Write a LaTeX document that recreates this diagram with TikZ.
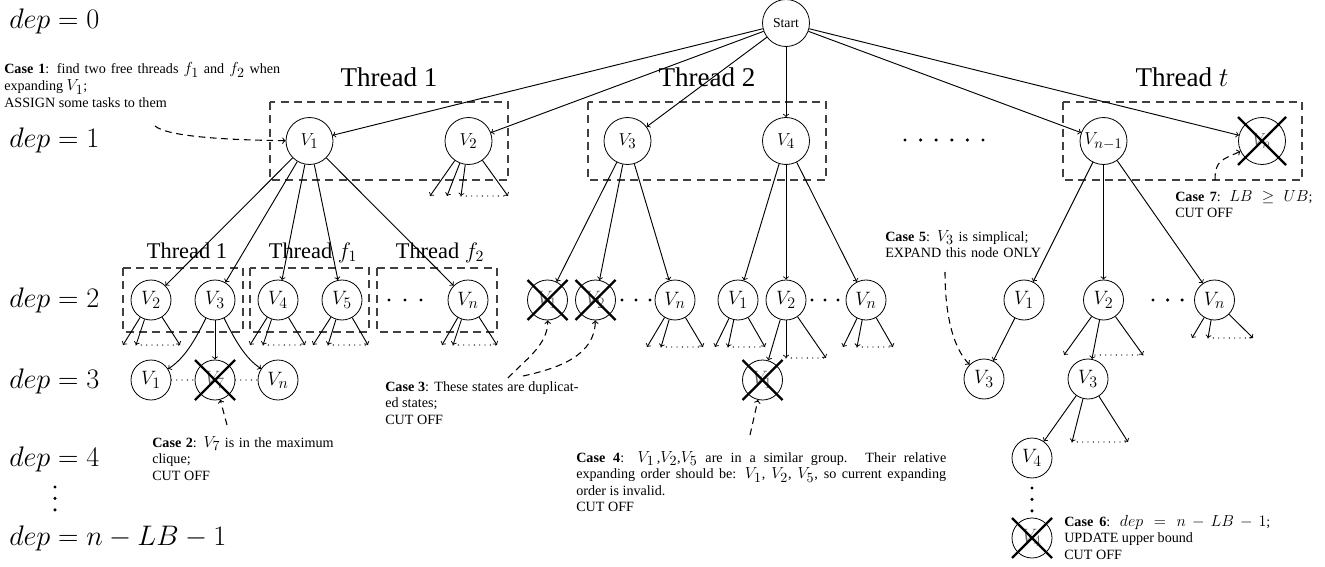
\RequirePackage{fix-cm}
\documentclass[tikz,border=0pt]{standalone}
\usepackage[no-math]{fontspec}
\setmainfont{Liberation Serif}
\DeclareMathSizes{10.6}{12}{10.5}{8}
\DeclareMathSizes{13}{13}{11}{8.5}
\DeclareMathSizes{14.5}{14.5}{12}{9}
\newcommand\stubs[5]{%
  \coordinate (#1-a) at (#3,#2);
  \coordinate (#1-b) at (#4,#2);
  \coordinate (#1-c) at (#5,#2);
  \draw[edge] (#1) -- (#1-a);
  \draw[edge] (#1) -- (#1-b);
  \draw[edge] (#1) -- (#1-c);
  \draw[finedots] (#1-b) -- (#1-c);}
\newcommand\crossnode[2]{%
  \draw[xline] ([shift={(-#2,-#2)}]#1.center) -- ([shift={(#2,#2)}]#1.center);
  \draw[xline] ([shift={(-#2,#2)}]#1.center) -- ([shift={(#2,-#2)}]#1.center);}
\begin{document}
\begin{tikzpicture}[x=0.75pt,y=-0.75pt,
  startnode/.style={circle,draw,line width=0.6pt,minimum size=35.25pt,inner sep=0pt,font=\fontsize{10.3}{12}\selectfont},
  lone/.style={circle,draw,line width=0.6pt,minimum size=35.25pt,inner sep=0pt,font=\fontsize{13}{15}\selectfont},
  ltwo/.style={circle,draw,line width=0.6pt,minimum size=30pt,inner sep=0pt,font=\fontsize{14.5}{17}\selectfont},
  gone/.style={text=black!60},
  edge/.style={->,line width=0.7pt},
  xline/.style={line width=1.8pt},
  finedots/.style={line width=1pt,line cap=round,dash pattern=on 0pt off 4pt},
  bigdots/.style={line width=2.6pt,line cap=round,dash pattern=on 0pt off #1},
  tbox/.style={draw=black!75,line width=0.8pt,dash pattern=on 6pt off 4pt},
  note/.style={->,line width=0.8pt,dash pattern=on 5pt off 3.5pt},
  deplabel/.style={anchor=base west,inner sep=0pt,font=\fontsize{21.2}{25}\selectfont},
  thlabel/.style={anchor=base,inner sep=0pt,font=\fontsize{20.3}{24}\selectfont},
  subthlabel/.style={anchor=base,inner sep=0pt,font=\fontsize{16.8}{20}\selectfont},
  case/.style={anchor=base west,inner sep=0pt,font=\fontsize{10.6}{12.4}\selectfont,align=justify,text width=#1},
]
\useasboundingbox (0,0) rectangle (1325,567);

% depth labels
\node[deplabel] (d0) at (9,29) {$dep=0$};
\node[deplabel] (d1) at (9,147) {$dep=1$};
\node[deplabel] (d2) at (9,307) {$dep=2$};
\node[deplabel] (d3) at (9,388) {$dep=3$};
\node[deplabel] (d4) at (9,466) {$dep=4$};
\node[deplabel] (dn) at (9,545) {$dep=n-LB-1$};
\coordinate (vd1) at (55,487);
\coordinate (vd2) at (55,511);
\draw[bigdots=8.6pt] (vd1) -- (vd2);

% thread boxes, level 1
\draw[tbox] (270,102) rectangle (508,180);
\draw[tbox] (588,102) rectangle (826,180);
\draw[tbox] (1063,102) rectangle (1302,180);
\node[thlabel] (th1) at (389,87) {Thread 1};
\node[thlabel] (th2) at (707,87) {Thread 2};
\node[thlabel] (tht) at (1182,87) {Thread $t$};

% thread boxes, level 2
\draw[tbox] (123,268) rectangle (243,332);
\draw[tbox] (250,268) rectangle (369,332);
\draw[tbox] (377,268) rectangle (497,332);
\node[subthlabel] (sth1) at (187,258) {Thread 1};
\node[subthlabel] (sthf1) at (313,258) {Thread $f_1$};
\node[subthlabel] (sthf2) at (440,258) {Thread $f_2$};

% nodes
\node[startnode] (S) at (786,23) {Start};
\node[lone] (A1) at (309.5,141) {$V_1$};
\node[lone] (A2) at (468.5,141) {$V_2$};
\node[lone] (A3) at (627.5,141) {$V_3$};
\node[lone] (A4) at (786,141) {$V_4$};
\node[lone] (A5) at (1103.5,141) {$V_{n-1}$};
\node[lone,gone] (A6) at (1262,141) {$V_n$};
\coordinate (ld1) at (905,140);
\coordinate (ld2) at (984,140);
\draw[bigdots=11.7pt] (ld1) -- (ld2);

\node[ltwo] (B2) at (151,300) {$V_2$};
\node[ltwo] (B3) at (215,300) {$V_3$};
\node[ltwo] (B4) at (278,300) {$V_4$};
\node[ltwo] (B5) at (342,300) {$V_5$};
\node[ltwo] (Bn) at (468,300) {$V_n$};
\coordinate (bd1) at (389,300);
\coordinate (bd2) at (422,300);
\draw[bigdots=12pt] (bd1) -- (bd2);

\node[ltwo,gone] (C1) at (547.5,300) {$V_1$};
\node[ltwo,gone] (C2) at (595.5,300) {$V_2$};
\node[ltwo] (Cn) at (675,300) {$V_n$};
\coordinate (cd1) at (622,300);
\coordinate (cd2) at (651,300);
\draw[bigdots=10.5pt] (cd1) -- (cd2);

\node[ltwo] (D1) at (738,300) {$V_1$};
\node[ltwo] (D2) at (786,300) {$V_2$};
\node[ltwo] (Dn) at (866,300) {$V_n$};
\coordinate (dd1) at (812,300);
\coordinate (dd2) at (839,300);
\draw[bigdots=9.75pt] (dd1) -- (dd2);

\node[ltwo] (E1) at (1024,300) {$V_1$};
\node[ltwo] (E2) at (1103.5,300) {$V_2$};
\node[ltwo] (En) at (1214.5,300) {$V_n$};
\coordinate (ed1) at (1153,300);
\coordinate (ed2) at (1183,300);
\draw[bigdots=10.9pt] (ed1) -- (ed2);

\node[ltwo] (F1) at (151,380) {$V_1$};
\node[ltwo,gone] (F7) at (215,380) {$V_7$};
\node[ltwo] (Fn) at (278,380) {$V_n$};

\node[ltwo,gone] (G) at (762.5,380) {$V_1$};
\node[ltwo] (H1) at (984,379) {$V_3$};
\node[ltwo] (H2) at (1088,379) {$V_3$};
\node[ltwo] (I4) at (1032,458) {$V_4$};
\node[ltwo,gone] (J) at (1032,538) {$V_4$};
\coordinate (vj1) at (1032,488);
\coordinate (vj2) at (1032,512);
\draw[bigdots=8.6pt] (vj1) -- (vj2);

% crosses
\crossnode{A6}{24}
\crossnode{C1}{20}
\crossnode{C2}{20}
\crossnode{F7}{20}
\crossnode{G}{20}
\crossnode{J}{20}

% edges
\foreach \t in {A1,A2,A3,A4,A5,A6} \draw[edge] (S) -- (\t);
\foreach \t in {B2,B3,B4,B5,Bn} \draw[edge] (A1) -- (\t);
\foreach \t in {C1,C2,Cn} \draw[edge] (A3) -- (\t);
\foreach \t in {D1,D2,Dn} \draw[edge] (A4) -- (\t);
\foreach \t in {E1,E2,En} \draw[edge] (A5) -- (\t);

% level-1 V2 stubs
\coordinate (A2-a) at (430,196);
\coordinate (A2-b) at (447,196);
\coordinate (A2-c) at (461,196);
\coordinate (A2-d) at (508,196);
\foreach \t in {a,b,c,d} \draw[edge] (A2) -- (A2-\t);
\draw[finedots] (A2-c) -- (A2-d);

% dep-2 stubs
\stubs{B2}{345}{123}{136}{180}
\stubs{B4}{345}{250}{263}{305}
\stubs{B5}{345}{313}{328}{368}
\stubs{Bn}{345}{442}{453}{497}
\stubs{Cn}{347}{647}{661}{703}
\stubs{D1}{347}{715}{728}{765}
\stubs{Dn}{347}{843}{857}{893}
\stubs{En}{338}{1192}{1208}{1253}

% V3 (thread 1) children
\draw[edge] (B3) .. controls (195,340) and (185,358) .. (F1);
\draw[edge] (B3) -- (F7);
\draw[edge] (B3) .. controls (235,340) and (245,358) .. (Fn);
\draw[finedots] (F1) -- (F7);
\draw[finedots] (F7) -- (Fn);

% V2 under V4
\coordinate (D2-b) at (786,358);
\coordinate (D2-c) at (826,358);
\draw[edge] (D2) -- (G);
\draw[edge] (D2) -- (D2-b);
\draw[edge] (D2) -- (D2-c);
\draw[finedots] (D2-b) -- (D2-c);

% thread t subtree
\draw[edge] (E1) -- (H1);
\coordinate (E2-a) at (1064,355);
\coordinate (E2-c) at (1143,355);
\coordinate (E2-d) at (1095,355);
\draw[edge] (E2) -- (E2-a);
\draw[edge] (E2) -- (H2);
\draw[edge] (E2) -- (E2-c);
\draw[finedots] (E2-d) -- (E2-c);
\coordinate (H2-b) at (1072,442);
\coordinate (H2-c) at (1128,442);
\draw[edge] (H2) -- (I4);
\draw[edge] (H2) -- (H2-b);
\draw[edge] (H2) -- (H2-c);
\draw[finedots] (H2-b) -- (H2-c);

% case notes
\node[case=207pt] (c1) at (4,74) {\textbf{Case 1}: find two free threads $f_1$ and $f_2$ when\linebreak expanding $V_1$;\\ASSIGN some tasks to them};
\node[case=136pt] (c2) at (152,447) {\textbf{Case 2}: $V_7$ is in the maximum\linebreak clique;\\CUT OFF};
\node[case=145pt] (c3) at (385,391) {\textbf{Case 3}: These states are duplicat-\linebreak ed states;\\CUT OFF};
\node[case=277.5pt] (c4) at (576,462) {\textbf{Case 4}: $V_1$\,,$V_2$,$V_5$ are in a similar group. Their relative\linebreak expanding order should be: $V_1$, $V_2$, $V_5$, so current expanding\linebreak order is invalid.\\CUT OFF};
\node[case=125pt,align=left] (c5) at (885,241) {\textbf{Case 5}: $V_3$ is simplical;\\EXPAND this node ONLY};
\node[case=103pt] (c7) at (1175,201) {\textbf{Case 7}: $LB\geq UB$;\linebreak CUT OFF};
\node[case=154.5pt] (c6) at (1064,526) {\textbf{Case 6}: $dep=n-LB-1$;\linebreak UPDATE upper bound\\CUT OFF};

\coordinate (n1) at (155,126);
\draw[note] (n1) .. controls (168,137) and (230,140) .. (A1);
\coordinate (n2) at (227,425);
\draw[note] (n2) -- (F7);
\coordinate (n3a) at (508,378);
\coordinate (n3b) at (523,376);
\draw[note] (n3a) .. controls (525,360) and (548,345) .. (C1);
\draw[note] (n3b) .. controls (560,368) and (595,355) .. (C2);
\coordinate (n4) at (750,435);
\draw[note] (n4) -- (G);
\coordinate (n5) at (945,272);
\draw[note] (n5) .. controls (945,320) and (955,350) .. (H1);
\coordinate (n7) at (1215,180);
\draw[note] (n7) .. controls (1215,160) and (1222,160) .. (A6);
\end{tikzpicture}
\end{document}
